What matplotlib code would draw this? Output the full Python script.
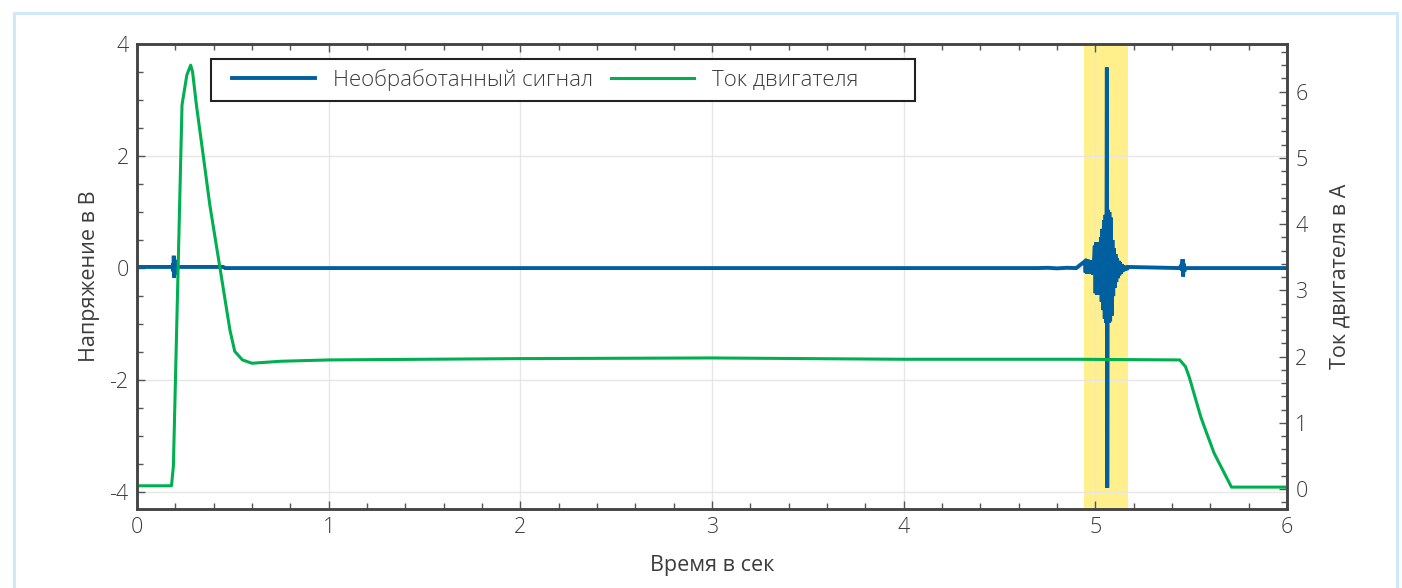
import matplotlib.pyplot as plt
from matplotlib.patches import Rectangle
from matplotlib.ticker import MultipleLocator

plt.rcParams['font.family'] = ['Open Sans', 'DejaVu Sans']
plt.rcParams['font.weight'] = 'light'
plt.rcParams['axes.unicode_minus'] = False

# ток двигателя, А
t_cur = [0.0, 0.18, 0.19, 0.235, 0.26, 0.28, 0.29, 0.31, 0.345, 0.38, 0.433,
         0.485, 0.51, 0.55, 0.60, 0.75, 1.0, 2.0, 3.0, 4.0, 4.9, 5.44, 5.47,
         5.49, 5.55, 5.58, 5.62, 5.71, 6.0]
i_cur = [0.05, 0.05, 0.35, 5.8, 6.25, 6.40, 6.30, 5.80, 5.05, 4.29, 3.34,
         2.40, 2.08, 1.95, 1.90, 1.93, 1.95, 1.97, 1.98, 1.96, 1.96, 1.95, 1.85,
         1.69, 1.09, 0.85, 0.54, 0.03, 0.03]

# необработанный сигнал, В
t_raw = [0.0, 0.186, 0.188, 0.190, 0.192, 0.194, 0.196, 0.198, 0.200, 0.203, 0.206,
         0.45, 0.46, 4.70, 4.75, 4.80, 4.85, 4.90,
         4.945, 4.949, 4.953, 4.957, 4.961, 4.965, 4.969, 4.973, 4.977, 4.981,
         4.985, 4.989, 4.993,
         4.997, 5.001, 5.005, 5.009, 5.013, 5.017, 5.021, 5.025,
         5.029, 5.033, 5.037, 5.041, 5.045, 5.049, 5.053, 5.057,
         5.060, 5.062,
         5.065, 5.069, 5.073, 5.077, 5.081, 5.085,
         5.089, 5.093, 5.097, 5.101, 5.105, 5.109, 5.113, 5.117, 5.121, 5.125,
         5.129, 5.133, 5.137, 5.141, 5.145, 5.149, 5.153, 5.157, 5.161, 5.165,
         5.169,
         5.44, 5.448, 5.452, 5.455, 5.458, 5.461, 5.464, 5.468, 6.0]
v_raw = [0.02, 0.02, 0.08, -0.06, 0.22, -0.17, 0.15, -0.12, 0.06, -0.04, 0.02,
         0.02, 0.0, 0.0, 0.005, -0.005, 0.005, 0.0,
         0.12, -0.08, 0.15, -0.10, 0.15, -0.10, 0.14, -0.09, 0.13, -0.10,
         0.14, -0.12, 0.15,
         0.40, -0.45, 0.46, -0.48, 0.45, -0.47, 0.46, -0.46,
         0.55, -0.60, 0.70, -0.75, 0.85, -0.90, 0.95, -0.98,
         3.58, -3.92,
         1.04, -0.98, 1.00, -0.95, 0.90, -0.85,
         0.50, -0.50, 0.35, -0.35, 0.25, -0.25, 0.18, -0.18, 0.13, -0.13,
         0.10, -0.10, 0.07, -0.07, 0.05, -0.05, 0.04, -0.04, 0.03, -0.03,
         0.02,
         0.0, 0.05, -0.05, 0.16, -0.15, 0.08, -0.06, 0.0, 0.0]

band = (4.94, 5.17)

blue = '#00609f'
green = '#00b050'
txt = '#3c3c3c'
fs = 15.5

fig = plt.figure(figsize=(14.02, 5.88), dpi=100)
fig.patches.append(Rectangle((14 / 1402, -0.1), 1383 / 1402, 1.1 - 13 / 588,
                             transform=fig.transFigure, fill=False,
                             edgecolor='#cfe8fa', lw=2.2))

ax = fig.add_axes([0.0977, 0.1344, 0.8203, 0.7908])
ax2 = ax.twinx()

ax.axvspan(band[0], band[1], color='#fff08c', lw=0)
l1, = ax.plot(t_raw, v_raw, color=blue, lw=2.8, solid_joinstyle='miter',
              label='Необработанный сигнал')
l2, = ax2.plot(t_cur, i_cur, color=green, lw=2.2, label='Ток двигателя')

ax.set_xlim(0, 6)
ax.set_ylim(-4.3, 4.0)
ax2.set_ylim(-0.30, 6.72)

ax.xaxis.set_major_locator(MultipleLocator(1))
ax.xaxis.set_minor_locator(MultipleLocator(0.2))
ax.yaxis.set_major_locator(MultipleLocator(2))
ax.yaxis.set_minor_locator(MultipleLocator(0.5))
ax2.yaxis.set_major_locator(MultipleLocator(1))
ax2.yaxis.set_minor_locator(MultipleLocator(0.2))

ax.grid(True, which='major', color='#e6e6e6', lw=1)

for a in (ax, ax2):
    a.tick_params(which='both', direction='in', color='#555555',
                  labelcolor=txt, labelsize=fs, pad=6)
    a.tick_params(which='major', length=6, width=1)
    a.tick_params(which='minor', length=4, width=1)
    for s in a.spines.values():
        s.set_color('#444444')
        s.set_linewidth(1.8)
ax.tick_params(which='both', top=True, right=False)
ax2.tick_params(which='both', left=False, right=True)

ax.set_xlabel('Время в сек', fontsize=fs, color=txt, labelpad=12)
ax.set_ylabel('Напряжение в В', fontsize=fs, color=txt, labelpad=7)
ax2.set_ylabel('Ток двигателя в А', fontsize=fs, color=txt, labelpad=16)

# рамка легенды шире её содержимого
ax2.add_patch(Rectangle((0.0643, 0.8774), 0.6122, 0.0903,
                        transform=ax2.transAxes, facecolor='white',
                        edgecolor='#222222', lw=1.5, zorder=4.9))
leg = ax2.legend([l1, l2], [l1.get_label(), l2.get_label()], ncol=2,
                 loc='center left', bbox_to_anchor=(0.0826, 0.9226),
                 borderaxespad=0, borderpad=0, fontsize=16, frameon=False,
                 handlelength=3.74, handletextpad=0.81, columnspacing=0.81)
for t in leg.get_texts():
    t.set_color(txt)

fig.savefig('out.png', dpi=100)
